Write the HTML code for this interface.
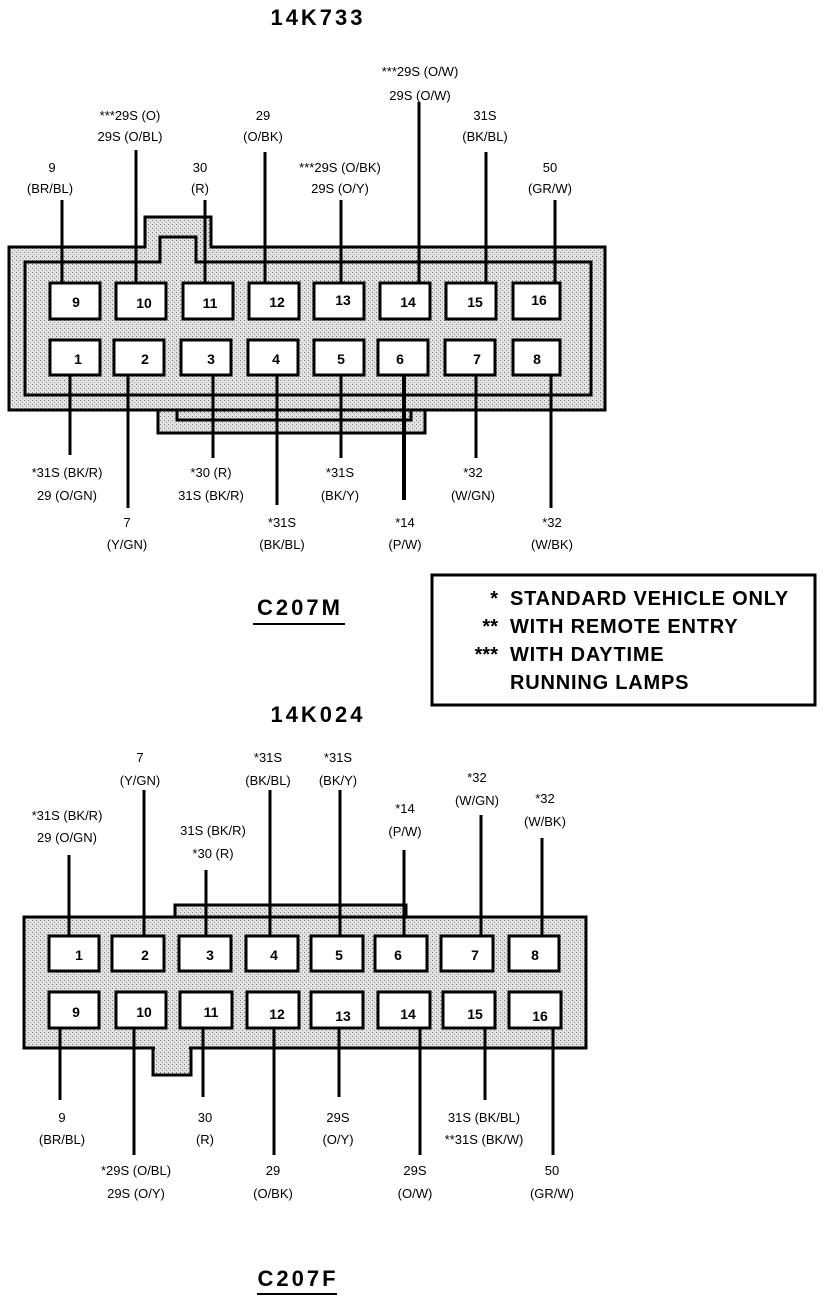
<!DOCTYPE html>
<html><head><meta charset="utf-8"><style>
html,body{margin:0;padding:0;background:#fff;}
svg{display:block;}
text{font-family:"Liberation Sans",sans-serif;font-size:13px;fill:#000;text-anchor:middle;}
.pn{font-size:14px;font-weight:bold;}
.t{font-size:22px;font-weight:bold;letter-spacing:3px;}
.lg{font-size:20px;font-weight:bold;text-anchor:start;letter-spacing:0.8px;}
.ls{font-size:20px;font-weight:bold;text-anchor:end;}
</style></head><body>
<svg width="832" height="1300" viewBox="0 0 832 1300" xmlns="http://www.w3.org/2000/svg">
<defs>
<pattern id="st" width="4" height="4" patternUnits="userSpaceOnUse">
<rect width="4" height="4" fill="#e2e2e2"/><rect x="0" y="0" width="1" height="1" fill="#777"/><rect x="2" y="2" width="1" height="1" fill="#999"/>
</pattern>
</defs>
<g stroke="#000" stroke-width="3" fill="url(#st)">
<rect x="158" y="409" width="267" height="24"/>
<path d="M9 247 H145 V217 H211 V247 H605 V410 H9 Z"/>
<path d="M25 262 H160 V237 H196 V262 H591 V395 H25 Z" fill="none"/>
<path d="M177 409 V420 H411 V409" fill="none"/>
</g>
<g stroke="#000" stroke-width="3" fill="#fff">
<rect x="50" y="283" width="50" height="36"/><rect x="116" y="283" width="50" height="36"/><rect x="183" y="283" width="50" height="36"/><rect x="249" y="283" width="50" height="36"/><rect x="314" y="283" width="50" height="36"/><rect x="380" y="283" width="50" height="36"/><rect x="446" y="283" width="50" height="36"/><rect x="513" y="283" width="47" height="36"/>
<rect x="50" y="340" width="50" height="35"/><rect x="114" y="340" width="50" height="35"/><rect x="181" y="340" width="50" height="35"/><rect x="248" y="340" width="50" height="35"/><rect x="314" y="340" width="50" height="35"/><rect x="378" y="340" width="50" height="35"/><rect x="445" y="340" width="50" height="35"/><rect x="513" y="340" width="47" height="35"/>
</g>
<g stroke="#000" stroke-width="3">
<line x1="62" y1="200" x2="62" y2="283"/><line x1="136" y1="150" x2="136" y2="283"/><line x1="205" y1="200" x2="205" y2="283"/><line x1="265" y1="152" x2="265" y2="283"/><line x1="341" y1="200" x2="341" y2="283"/><line x1="419" y1="102" x2="419" y2="283"/><line x1="486" y1="152" x2="486" y2="283"/><line x1="555" y1="200" x2="555" y2="283"/>
<line x1="70" y1="375" x2="70" y2="455"/><line x1="128" y1="375" x2="128" y2="508"/><line x1="213" y1="375" x2="213" y2="458"/><line x1="277" y1="375" x2="277" y2="505"/><line x1="341" y1="375" x2="341" y2="458"/><line x1="404" y1="375" x2="404" y2="500" stroke-width="4"/><line x1="476" y1="375" x2="476" y2="458"/><line x1="551" y1="375" x2="551" y2="508"/>
</g>
<text class="pn" x="76" y="307">9</text><text class="pn" x="144" y="308">10</text><text class="pn" x="210" y="308">11</text><text class="pn" x="277" y="307">12</text><text class="pn" x="343" y="305">13</text><text class="pn" x="408" y="307">14</text><text class="pn" x="475" y="307">15</text><text class="pn" x="539" y="305">16</text>
<text class="pn" x="78" y="364">1</text><text class="pn" x="145" y="364">2</text><text class="pn" x="211" y="364">3</text><text class="pn" x="276" y="364">4</text><text class="pn" x="341" y="364">5</text><text class="pn" x="400" y="364">6</text><text class="pn" x="477" y="364">7</text><text class="pn" x="537" y="364">8</text>
<text class="t" x="318" y="25">14K733</text>
<text x="52" y="172">9</text><text x="50" y="193">(BR/BL)</text>
<text x="130" y="120">***29S (O)</text><text x="130" y="141">29S (O/BL)</text>
<text x="200" y="172">30</text><text x="200" y="193">(R)</text>
<text x="263" y="120">29</text><text x="263" y="141">(O/BK)</text>
<text x="340" y="172">***29S (O/BK)</text><text x="340" y="193">29S (O/Y)</text>
<text x="420" y="76">***29S (O/W)</text><text x="420" y="100">29S (O/W)</text>
<text x="485" y="120">31S</text><text x="485" y="141">(BK/BL)</text>
<text x="550" y="172">50</text><text x="550" y="193">(GR/W)</text>
<text x="67" y="477">*31S (BK/R)</text><text x="67" y="500">29 (O/GN)</text>
<text x="127" y="527">7</text><text x="127" y="549">(Y/GN)</text>
<text x="211" y="477">*30 (R)</text><text x="211" y="500">31S (BK/R)</text>
<text x="282" y="527">*31S</text><text x="282" y="549">(BK/BL)</text>
<text x="340" y="477">*31S</text><text x="340" y="500">(BK/Y)</text>
<text x="405" y="527">*14</text><text x="405" y="549">(P/W)</text>
<text x="473" y="477">*32</text><text x="473" y="500">(W/GN)</text>
<text x="552" y="527">*32</text><text x="552" y="549">(W/BK)</text>
<text class="t" x="300" y="615">C207M</text>
<line x1="253" y1="624" x2="345" y2="624" stroke="#000" stroke-width="2"/>
<rect x="432" y="575" width="383" height="130" fill="#fff" stroke="#000" stroke-width="3"/>
<text class="ls" x="498" y="605">*</text><text class="lg" x="510" y="605">STANDARD VEHICLE ONLY</text>
<text class="ls" x="498" y="633">**</text><text class="lg" x="510" y="633">WITH REMOTE ENTRY</text>
<text class="ls" x="498" y="661">***</text><text class="lg" x="510" y="661">WITH DAYTIME</text>
<text class="lg" x="510" y="689">RUNNING LAMPS</text>
<text class="t" x="318" y="722">14K024</text>
<g stroke="#000" stroke-width="3" fill="url(#st)">
<rect x="175" y="905" width="231" height="12"/>
<rect x="153" y="1040" width="38" height="35"/>
<rect x="24" y="917" width="562" height="131"/>
</g>
<rect x="155" y="1040" width="34" height="10" fill="url(#st)"/>
<g stroke="#000" stroke-width="3" fill="#fff">
<rect x="49" y="936" width="50" height="35"/><rect x="112" y="936" width="52" height="35"/><rect x="179" y="936" width="52" height="35"/><rect x="246" y="936" width="52" height="35"/><rect x="311" y="936" width="52" height="35"/><rect x="375" y="936" width="52" height="35"/><rect x="441" y="936" width="52" height="35"/><rect x="509" y="936" width="50" height="35"/>
<rect x="49" y="992" width="50" height="36"/><rect x="116" y="992" width="50" height="36"/><rect x="180" y="992" width="52" height="36"/><rect x="247" y="992" width="52" height="36"/><rect x="311" y="992" width="52" height="36"/><rect x="378" y="992" width="52" height="36"/><rect x="443" y="992" width="52" height="36"/><rect x="509" y="992" width="52" height="36"/>
</g>
<g stroke="#000" stroke-width="3">
<line x1="69" y1="855" x2="69" y2="936"/><line x1="144" y1="790" x2="144" y2="936"/><line x1="206" y1="870" x2="206" y2="936"/><line x1="270" y1="790" x2="270" y2="936"/><line x1="340" y1="790" x2="340" y2="936"/><line x1="404" y1="850" x2="404" y2="936"/><line x1="481" y1="815" x2="481" y2="936"/><line x1="542" y1="838" x2="542" y2="936"/>
<line x1="60" y1="1028" x2="60" y2="1100"/><line x1="134" y1="1028" x2="134" y2="1155"/><line x1="203" y1="1028" x2="203" y2="1097"/><line x1="274" y1="1028" x2="274" y2="1155"/><line x1="339" y1="1028" x2="339" y2="1097"/><line x1="420" y1="1028" x2="420" y2="1155"/><line x1="485" y1="1028" x2="485" y2="1100"/><line x1="553" y1="1028" x2="553" y2="1155"/>
</g>
<text class="pn" x="79" y="960">1</text><text class="pn" x="145" y="960">2</text><text class="pn" x="210" y="960">3</text><text class="pn" x="274" y="960">4</text><text class="pn" x="339" y="960">5</text><text class="pn" x="398" y="960">6</text><text class="pn" x="475" y="960">7</text><text class="pn" x="535" y="960">8</text>
<text class="pn" x="76" y="1017">9</text><text class="pn" x="144" y="1017">10</text><text class="pn" x="211" y="1017">11</text><text class="pn" x="277" y="1019">12</text><text class="pn" x="343" y="1021">13</text><text class="pn" x="408" y="1019">14</text><text class="pn" x="475" y="1019">15</text><text class="pn" x="540" y="1021">16</text>
<text x="140" y="762">7</text><text x="140" y="785">(Y/GN)</text>
<text x="268" y="762">*31S</text><text x="268" y="785">(BK/BL)</text>
<text x="338" y="762">*31S</text><text x="338" y="785">(BK/Y)</text>
<text x="67" y="820">*31S (BK/R)</text><text x="67" y="842">29 (O/GN)</text>
<text x="405" y="813">*14</text><text x="405" y="836">(P/W)</text>
<text x="477" y="782">*32</text><text x="477" y="805">(W/GN)</text>
<text x="545" y="803">*32</text><text x="545" y="826">(W/BK)</text>
<text x="213" y="835">31S (BK/R)</text><text x="213" y="858">*30 (R)</text>
<text x="62" y="1122">9</text><text x="62" y="1144">(BR/BL)</text>
<text x="205" y="1122">30</text><text x="205" y="1144">(R)</text>
<text x="338" y="1122">29S</text><text x="338" y="1144">(O/Y)</text>
<text x="484" y="1122">31S (BK/BL)</text><text x="484" y="1144">**31S (BK/W)</text>
<text x="136" y="1175">*29S (O/BL)</text><text x="136" y="1198">29S (O/Y)</text>
<text x="273" y="1175">29</text><text x="273" y="1198">(O/BK)</text>
<text x="415" y="1175">29S</text><text x="415" y="1198">(O/W)</text>
<text x="552" y="1175">50</text><text x="552" y="1198">(GR/W)</text>
<text class="t" x="298" y="1286">C207F</text>
<line x1="257" y1="1294" x2="337" y2="1294" stroke="#000" stroke-width="2"/>
</svg>
</body></html>
